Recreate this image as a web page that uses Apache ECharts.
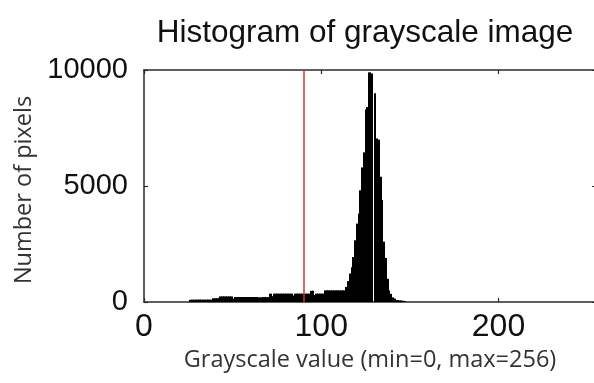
<!DOCTYPE html>
<html>
<head>
<meta charset="utf-8">
<script src="https://cdn.jsdelivr.net/npm/echarts@6/dist/echarts.min.js"></script>
<style>
html,body{margin:0;padding:0;background:#fff;}
#chart{width:594px;height:383px;}
</style>
</head>
<body>
<div id="chart"></div>
<script>
// Grayscale levels (bins) with non-zero counts, and their pixel counts
const grayLevels = [
  26,27,28,29,30,31,32,33,34,35,36,37,38,
  39,40,41,42,
  43,44,45,46,47,48,49,
  50,
  51,52,53,54,55,56,57,58,59,60,61,62,63,
  64,
  65,66,67,68,69,70,
  71,72,
  73,74,75,76,77,78,79,80,81,82,83,
  84,
  85,86,87,88,89,90,91,92,93,
  94,95,96,
  97,98,99,100,101,
  102,103,104,105,106,107,108,109,110,111,112,113,
  114,115,116,117,118,119,120,121,122,123,124,125,126,127,128,129,
  130,131,132,133,134,135,136,137,138,139,140,141,142,143,144,145,146,147
];
const pixelCounts = [
  95,100,100,100,100,105,100,100,100,100,105,100,100,
  160,160,160,160,
  240,240,240,240,240,240,240,
  150,
  215,215,215,215,215,215,215,215,215,215,215,215,215,
  150,
  200,200,210,210,210,210,
  360,250,
  360,360,360,360,360,360,360,360,360,360,360,
  280,
  360,360,360,360,360,360,360,360,360,
  480,480,300,
  360,360,360,360,360,
  500,500,500,500,500,500,500,500,500,500,500,500,
  650,900,1225,1500,1940,2660,3380,3800,4815,5800,6450,8300,8400,9900,9850,0,
  9000,7050,7000,5400,4400,2600,1900,1000,500,350,200,150,80,80,70,60,50,30
];
const thresholdValue = 90;
const xTicks = [0, 100, 200];
const yTicks = [0, 5000, 10000];
const titleText = 'Histogram of grayscale image';
const xName = 'Grayscale value (min=0, max=256)';
const yName = 'Number of pixels';

const seriesData = grayLevels.map((g, i) => [g, pixelCounts[i]]);

const numFont = "'Liberation Sans', Arial, sans-serif";
const nameFont = "'Open Sans', 'Noto Sans', sans-serif";
const boxColor = '#2b2b2b';

const chart = echarts.init(document.getElementById('chart'), null, {renderer: 'canvas'});
chart.setOption({
  backgroundColor: '#ffffff',
  animation: false,
  title: {
    text: titleText,
    left: 360,
    top: 12,
    textAlign: 'center',
    textStyle: {fontFamily: "'Liberation Sans', Arial, sans-serif", fontSize: 31.5, fontWeight: 'normal', color: '#111'}
  },
  grid: {left: 144, top: 70, bottom: 81, right: -2, containLabel: false, outerBoundsMode: 'none'},
  xAxis: [{
    type: 'value', min: 0, max: 255, interval: 100,
    axisLine: {show: true, onZero: false, lineStyle: {color: boxColor, width: 1.5}},
    axisTick: {show: true, inside: true, length: 4, lineStyle: {color: boxColor, width: 1.2}},
    splitLine: {show: false},
    axisLabel: {
      showMaxLabel: false, margin: 9, color: '#111',
      fontFamily: numFont, fontSize: 32,
      formatter: v => xTicks.includes(v) ? String(v) : ''
    },
    name: xName, nameLocation: 'middle', nameGap: 44,
    nameTextStyle: {fontFamily: nameFont, fontSize: 23.5, color: '#333'}
  }, {
    type: 'value', position: 'top', min: 0, max: 255, interval: 100,
    axisLine: {show: true, onZero: false, lineStyle: {color: boxColor, width: 1.5}},
    axisTick: {show: true, inside: true, length: 4, lineStyle: {color: boxColor, width: 1.2}},
    axisLabel: {show: false}, splitLine: {show: false}
  }],
  yAxis: [{
    type: 'value', min: 0, max: 10000, interval: 5000,
    axisLine: {show: true, onZero: false, lineStyle: {color: boxColor, width: 1.5}},
    axisTick: {show: true, inside: true, length: 4, lineStyle: {color: boxColor, width: 1.2}},
    splitLine: {show: false},
    axisLabel: {
      margin: 16, color: '#111', fontFamily: numFont, fontSize: 29,
      formatter: v => yTicks.includes(v) ? String(v) : ''
    },
    name: yName, nameLocation: 'middle', nameGap: 104, nameRotate: 90,
    nameTextStyle: {fontFamily: nameFont, fontSize: 23.5, color: '#333', padding: [0, 8, 0, 0]}
  }, {
    type: 'value', position: 'right', min: 0, max: 10000, interval: 5000,
    axisLine: {show: true, onZero: false, lineStyle: {color: boxColor, width: 1.5}},
    axisTick: {show: true, inside: true, length: 4, lineStyle: {color: boxColor, width: 1.2}},
    axisLabel: {show: false}, splitLine: {show: false}
  }],
  series: [{
    type: 'custom',
    xAxisIndex: 0, yAxisIndex: 0,
    data: seriesData,
    encode: {x: 0, y: 1},
    clip: true,
    silent: true,
    renderItem: function (params, api) {
      const g = api.value(0);
      const c = api.value(1);
      if (!c) return null;
      const p0 = api.coord([g - 0.5, 0]);
      const p1 = api.coord([g + 0.5, c]);
      const x0 = Math.round(p0[0]);
      const x1 = Math.round(p1[0]) + 1;
      return {
        type: 'rect',
        shape: {x: x0, y: p1[1], width: x1 - x0, height: p0[1] - p1[1]},
        style: {fill: '#000', stroke: null}
      };
    },
    markLine: {
      silent: true, symbol: 'none',
      label: {show: false},
      lineStyle: {color: '#c43a3a', width: 1.5, type: 'solid'},
      data: [{xAxis: thresholdValue}]
    }
  }]
});
</script>
</body>
</html>
